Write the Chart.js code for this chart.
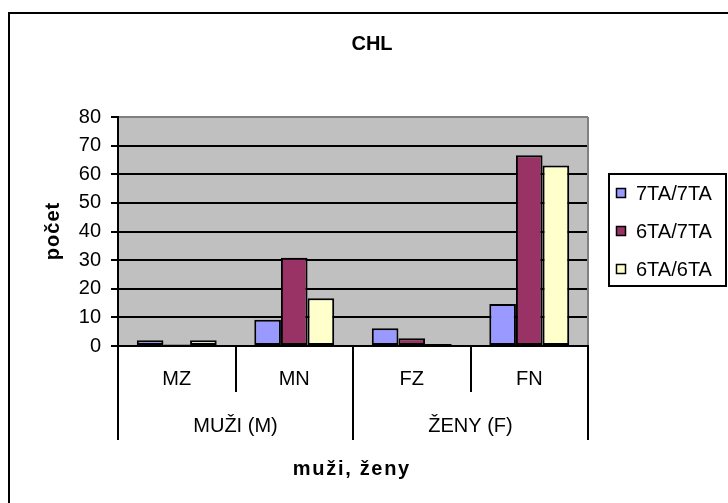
<!DOCTYPE html>
<html>
<head>
<meta charset="utf-8">
<script src="https://cdn.jsdelivr.net/npm/chart.js@4/dist/chart.umd.min.js"></script>
<style>
  html, body { margin: 0; padding: 0; background: #ffffff; }
  canvas { display: block; }
</style>
</head>
<body>
<canvas id="chart" width="728" height="503"></canvas>
<script>
// Categories (lower level) and their groups (upper level)
const categories = ['MZ', 'MN', 'FZ', 'FN'];
const groups = ['MUŽI (M)', 'ŽENY (F)'];
const groupSize = 2; // categories per group

// Series
const seriesNames = ['7TA/7TA', '6TA/7TA', '6TA/6TA'];
const values7TA7TA = [2.0, 9.2, 6.2, 14.7];
const values6TA7TA = [0.5, 30.8, 2.7, 66.6];
const values6TA6TA = [2.0, 16.7, 0.7, 63.1];
const seriesColors = ['#9999FF', '#993366', '#FFFFCC'];

// Value axis
const yMin = 0;
const yMax = 80;
const yStep = 10;

const chartTitle = 'CHL';
const yAxisTitle = 'počet';
const xAxisTitle = 'muži, ženy';

const FONT = '"Liberation Sans", Arial, sans-serif';

// Draws text with optional extra letter spacing, positioned by its visible width
function spacedText(ctx, text, x, y, font, spacing, align) {
  ctx.save();
  ctx.font = font;
  ctx.letterSpacing = '0px';
  const base = ctx.measureText(text).width;
  const w = base + spacing * (text.length - 1);
  ctx.letterSpacing = spacing + 'px';
  ctx.textAlign = 'left';
  ctx.textBaseline = 'alphabetic';
  ctx.fillStyle = '#000';
  let sx = x;
  if (align === 'center') sx = x - w / 2;
  else if (align === 'right') sx = x - w;
  ctx.fillText(text, sx, y);
  ctx.restore();
}

const decorPlugin = {
  id: 'decor',
  beforeDraw(chart) {
    const ctx = chart.ctx;
    const a = chart.chartArea;
    ctx.save();
    ctx.fillStyle = '#ffffff';
    ctx.fillRect(0, 0, chart.width, chart.height);
    // plot background
    ctx.fillStyle = '#C0C0C0';
    ctx.fillRect(a.left, a.top, a.right - a.left, a.bottom - a.top);
    ctx.restore();
  },
  afterDraw(chart) {
    const ctx = chart.ctx;
    const a = chart.chartArea;
    const xs = chart.scales.x;
    const cw = (xs.right - xs.left) / categories.length;

    ctx.save();

    // right border of the plot area
    ctx.strokeStyle = '#808080';
    ctx.lineWidth = 2;
    ctx.beginPath();
    ctx.moveTo(Math.round(a.right), a.top);
    ctx.lineTo(Math.round(a.right), a.bottom);
    ctx.stroke();

    // category separators below the axis
    ctx.strokeStyle = '#000';
    ctx.lineWidth = 2;
    const catDepth = 46;
    const groupDepth = 94;
    for (let i = 0; i <= categories.length; i++) {
      const x = Math.round(xs.getPixelForValue(Math.min(i, categories.length - 1)) + (i === categories.length ? cw / 2 : -cw / 2));
      const isGroupEdge = i % groupSize === 0;
      ctx.beginPath();
      ctx.moveTo(x, a.bottom);
      ctx.lineTo(x, a.bottom + (isGroupEdge ? groupDepth : catDepth));
      ctx.stroke();
    }
    // x axis line
    ctx.beginPath();
    ctx.moveTo(a.left - 1, Math.round(a.bottom));
    ctx.lineTo(a.right + 1, Math.round(a.bottom));
    ctx.stroke();

    // category labels
    categories.forEach((c, i) => {
      spacedText(ctx, c, xs.getPixelForValue(i), a.bottom + 39, '20px ' + FONT, 0, 'center');
    });
    // group labels
    groups.forEach((g, gi) => {
      const first = xs.getPixelForValue(gi * groupSize);
      const last = xs.getPixelForValue(gi * groupSize + groupSize - 1);
      spacedText(ctx, g, (first + last) / 2, a.bottom + 86, '20px ' + FONT, 0, 'center');
    });

    // titles
    spacedText(ctx, chartTitle, 372, 50, 'bold 20px ' + FONT, 0, 'center');
    spacedText(ctx, xAxisTitle, 351, 475, 'bold 20px ' + FONT, 1.7, 'center');
    ctx.save();
    ctx.translate(59, (a.top + a.bottom) / 2);
    ctx.rotate(-Math.PI / 2);
    spacedText(ctx, yAxisTitle, 0, 0, 'bold 20px ' + FONT, 1, 'center');
    ctx.restore();

    // legend
    const lx = 608, ly = 173, lw = 119, lh = 114;
    ctx.strokeStyle = '#000';
    ctx.lineWidth = 2;
    ctx.strokeRect(lx + 1, ly + 1, lw - 2, lh - 2);
    const itemCenters = [193, 231, 269];
    chart.data.datasets.forEach((ds, i) => {
      const cy = itemCenters[i];
      ctx.fillStyle = ds.backgroundColor;
      ctx.fillRect(616, cy - 5, 10, 10);
      ctx.lineWidth = 1.5;
      ctx.strokeStyle = '#000';
      ctx.strokeRect(616.5, cy - 4.5, 9, 9);
      spacedText(ctx, ds.label, 636, cy + 7, '20px ' + FONT, 0, 'left');
    });

    // outer frame
    ctx.strokeStyle = '#000';
    ctx.lineWidth = 2;
    ctx.strokeRect(9, 13, 900, 700);
    ctx.restore();
  }
};

const seriesValues = [values7TA7TA, values6TA7TA, values6TA6TA];

new Chart(document.getElementById('chart'), {
  type: 'bar',
  data: {
    labels: categories,
    datasets: seriesNames.map((name, i) => ({
      label: name,
      data: seriesValues[i],
      backgroundColor: seriesColors[i],
      borderColor: '#000000',
      borderWidth: 2,
      borderSkipped: false,
      categoryPercentage: 0.68,
      barPercentage: 1.0
    }))
  },
  options: {
    responsive: false,
    animation: false,
    devicePixelRatio: 1,
    layout: { padding: { top: 117, right: 140, bottom: 157, left: 58 } },
    plugins: {
      legend: { display: false },
      title: { display: false },
      tooltip: { enabled: false }
    },
    scales: {
      x: {
        display: false,
        offset: true
      },
      y: {
        min: yMin,
        max: yMax,
        afterFit(scale) { scale.width = 60; },
        ticks: {
          stepSize: yStep,
          color: '#000',
          padding: 10,
          font: { family: FONT, size: 20 }
        },
        grid: {
          color: (c) => (c.tick && c.tick.value === yMax ? '#808080' : '#000000'),
          lineWidth: 2,
          drawTicks: true,
          tickLength: 7,
          tickColor: '#000000',
          tickWidth: 2
        },
        border: { display: true, color: '#000000', width: 2 }
      }
    }
  },
  plugins: [decorPlugin]
});
</script>
</body>
</html>
